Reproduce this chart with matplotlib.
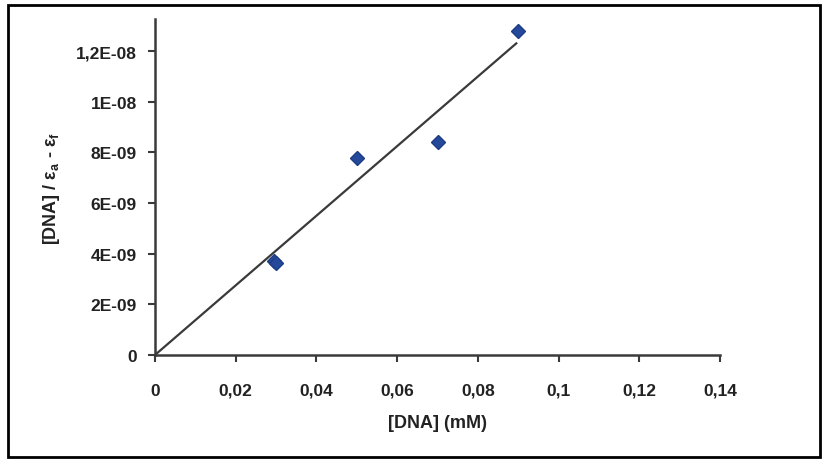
import matplotlib
matplotlib.use("Agg")
import matplotlib.pyplot as plt
from matplotlib.patches import Rectangle
import numpy as np

plt.rcParams['font.family'] = ['Liberation Sans', 'DejaVu Sans']
plt.rcParams['mathtext.fontset'] = 'custom'
plt.rcParams['mathtext.rm'] = 'Liberation Sans:bold'
plt.rcParams['mathtext.it'] = 'Liberation Sans:bold'
plt.rcParams['mathtext.bf'] = 'Liberation Sans:bold'

# data
dna_conc = [0.0296, 0.030, 0.050, 0.070, 0.090]
dna_ratio = [3.72e-9, 3.62e-9, 7.80e-9, 8.43e-9, 1.28e-8]
fit_slope = 1.375e-7
fit_x = [0.0, 0.0895]

x_ticks = [0, 0.02, 0.04, 0.06, 0.08, 0.10, 0.12, 0.14]
x_tick_labels = ["0", "0,02", "0,04", "0,06", "0,08", "0,1", "0,12", "0,14"]
y_ticks = [0, 2e-9, 4e-9, 6e-9, 8e-9, 1e-8, 1.2e-8]
y_tick_labels = ["0", "2E-09", "4E-09", "6E-09", "8E-09", "1E-08", "1,2E-08"]

fig = plt.figure(figsize=(8.24, 4.6), dpi=100)
ax = fig.add_axes([0.188, 0.226, 0.686, 0.730])

fx = np.array(fit_x)
ax.plot(fx, fit_slope * fx, color='#3a3a3a', lw=1.6, zorder=2)
ax.plot(dna_conc, dna_ratio, linestyle='none', marker='D', markersize=7.5,
        color='#24489a', markeredgecolor='#1d3c85', zorder=3)

ax.set_xlim(0, 0.14)
ax.set_ylim(0, 1.326e-8)
ax.set_xticks(x_ticks)
ax.set_xticklabels(x_tick_labels)
ax.set_yticks(y_ticks)
ax.set_yticklabels(y_tick_labels)

for s in ['top', 'right']:
    ax.spines[s].set_visible(False)
for s in ['left', 'bottom']:
    ax.spines[s].set_linewidth(1.8)
    ax.spines[s].set_color('#3a3a3a')

ax.tick_params(axis='both', direction='out', length=5, width=1.5, color='#3a3a3a',
               labelsize=12.5)
ax.tick_params(axis='y', pad=8)
ax.tick_params(axis='x', pad=15)
for lbl in ax.get_xticklabels() + ax.get_yticklabels():
    lbl.set_fontweight('bold')
    lbl.set_color('#222222')

ax.set_xlabel("[DNA] (mM)", fontsize=13, fontweight='bold', color='#222222', labelpad=12)
ax.set_ylabel(r"[DNA] / $\varepsilon_a$ - $\varepsilon_f$", fontsize=13,
              fontweight='bold', color='#222222', labelpad=10)

fig.patches.append(Rectangle((8 / 824, 2 / 460), 812 / 824, 452 / 460,
                             transform=fig.transFigure, fill=False,
                             edgecolor='black', linewidth=2))

fig.savefig("out.png", dpi=100)
